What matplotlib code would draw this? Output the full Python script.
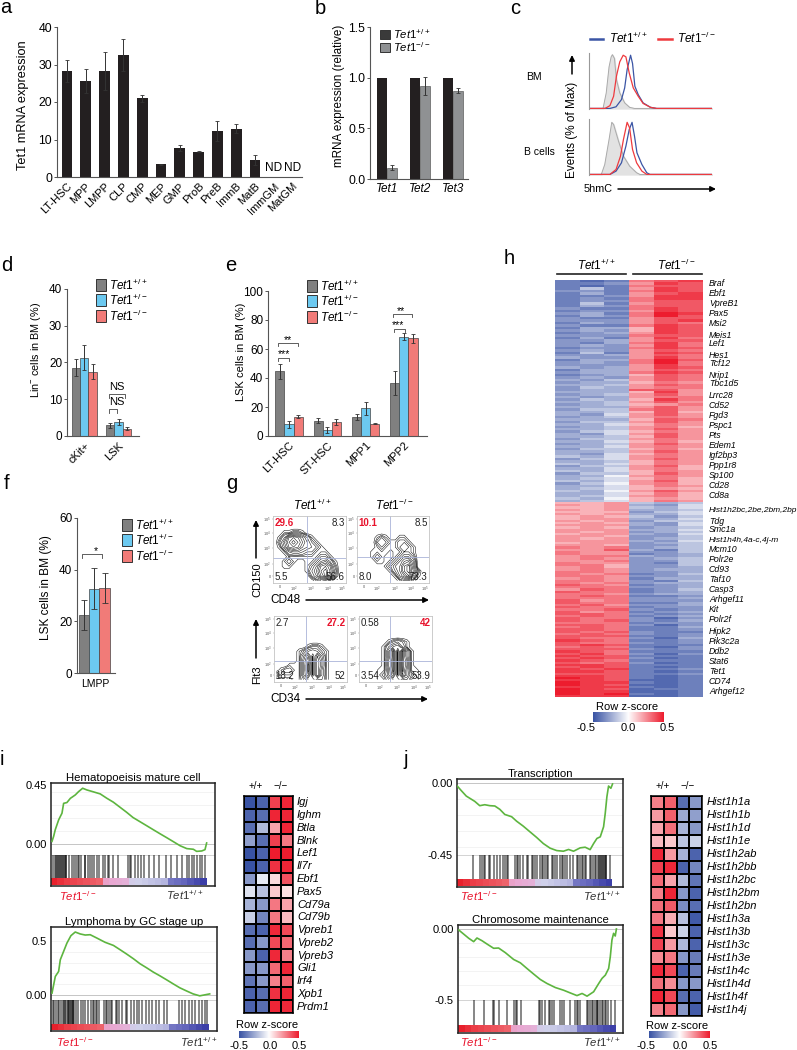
# Tet1 figure, panels a-j
import numpy as np
import matplotlib
matplotlib.use('Agg')
import matplotlib.pyplot as plt
from matplotlib.colors import LinearSegmentedColormap

plt.rcParams['font.family'] = ['Liberation Sans', 'DejaVu Sans']
plt.rcParams['mathtext.fontset'] = 'custom'
plt.rcParams['mathtext.rm'] = 'Liberation Sans'
plt.rcParams['mathtext.it'] = 'Liberation Sans:italic'
plt.rcParams['mathtext.bf'] = 'Liberation Sans:bold'

W, H = 797, 1050
WT = r'$\mathit{Tet1}^{+/+}$'
HET = r'$\mathit{Tet1}^{+/-}$'
KO = r'$\mathit{Tet1}^{-/-}$'

# panel a
a_cells = ['LT-HSC', 'MPP', 'LMPP', 'CLP', 'CMP', 'MEP', 'GMP', 'ProB', 'PreB', 'ImmB', 'MatB', 'ImmGM', 'MatGM']
a_vals = [28.3, 25.5, 28.3, 32.6, 21.0, 3.4, 7.8, 6.8, 12.2, 12.9, 4.5]
a_errs = [3.0, 3.2, 5.0, 4.2, 1.0, 0.2, 0.8, 0.2, 2.7, 1.2, 1.4]

# panel b
b_genes = ['Tet1', 'Tet2', 'Tet3']
b_wt = [1.0, 1.0, 1.0]
b_ko = [0.11, 0.92, 0.87]
b_ko_err = [0.025, 0.09, 0.025]

# panel c
c_bm_gray_x = [0, 11.4, 14, 16.3, 18, 19, 20.7, 22.3, 25, 29, 33, 37, 100]
c_bm_gray_y = [0, 0, 28, 75, 93, 97, 90, 52, 28, 10, 2, 0, 0]
c_bm_blue_x = [0, 17, 22, 26.4, 29, 31, 33.8, 35.4, 37.3, 40, 44, 50, 55, 100]
c_bm_blue_y = [0, 0, 3, 16, 37, 70, 96, 81, 40, 25, 10, 2, 0, 0]
c_bm_red_x = [0, 13, 17, 20, 22.3, 25, 27.8, 30, 32.7, 36, 40, 44, 50, 55, 100]
c_bm_red_y = [0, 0, 5, 22, 58, 84, 96, 93, 64, 37, 22, 9, 2, 0, 0]
c_b_gray_x = [0, 10, 12.8, 16.3, 18.5, 20, 24, 28, 33, 38.7, 41.4, 100]
c_b_gray_y = [0, 0, 18, 63, 94, 90, 60, 33, 15, 3, 0, 0]
c_b_blue_x = [0, 17, 22, 26.4, 30, 32.7, 35, 37, 39, 43, 47, 49.6, 100]
c_b_blue_y = [0, 0, 6, 21, 51, 81, 94, 69, 39, 18, 3, 0, 0]
c_b_red_x = [0, 17, 22, 25.6, 28, 31, 33, 35.4, 38.7, 43, 47, 100]
c_b_red_y = [0, 0, 9, 33, 63, 94, 84, 45, 21, 6, 0, 0]

# panel d
d_groups = ['cKit+', 'LSK']
d_wt = [18.6, 2.9]
d_het = [21.3, 3.9]
d_ko = [17.5, 2.0]
d_wt_err = [2.4, 0.7]
d_het_err = [3.4, 0.8]
d_ko_err = [2.1, 0.4]

# panel e
e_groups = ['LT-HSC', 'ST-HSC', 'MPP1', 'MPP2']
e_wt = [44.5, 10.5, 13.0, 36.5]
e_het = [8.0, 4.0, 19.0, 68.5]
e_ko = [13.3, 9.8, 8.5, 67.3]
e_wt_err = [5.5, 1.7, 2.2, 8.0]
e_het_err = [2.3, 2.0, 4.5, 2.5]
e_ko_err = [1.2, 2.2, 0.5, 3.2]

# panel f
f_vals = [22.3, 32.6, 33.0]
f_errs = [5.8, 8.0, 5.8]

# panel g, density read by eye on a coarse grid, top row first
g1_density = [
    '0000000000000000', '0000000000000000', '0000000000000000', '0011221000000000',
    '0137875310000000', '0258986421000000', '0147875432100000', '0013443221110000',
    '0001111111221000', '0012100112453100', '0011000124786200', '0000000135897300',
    '0000000024796200', '0000000001231000']
g2_density = [
    '0000000000000000', '0000000000000000', '0000000000000000', '0000000000000000',
    '0000121001100000', '0000232112210000', '0000121112321000', '0001111011221000',
    '0001210012442000', '0000110124674000', '0000001245895000', '0000000135896200',
    '0000000014684100', '0000000001221000']
g3_density = [
    '0000000000000000', '0000000000000000', '0000000000000000', '0000000000000000',
    '0000000000000000', '0000000000000000', '0000000122100000', '0000012454210000',
    '0000014737410000', '0000015838510000', '0001115938510000', '0122115938410000',
    '2111115838410000', '0000113563310000']
g4_density = [
    '0000000000000000', '0000000000000000', '0000000000000000', '0000000000000000',
    '0000000000000000', '0000001232100000', '0000013563100000', '0000015939510000',
    '0000015939510000', '0000016939610000', '0000016939610000', '0000115939511000',
    '0000125838521000', '0000113563311000']
g_levels = [0.5, 1, 1.5, 2, 3, 4, 5, 6, 7, 8, 8.6]
g1_pcts = ['29.6', '8.3', '5.5', '56.6']
g2_pcts = ['10.1', '8.5', '8.0', '73.3']
g3_pcts = ['2.7', '27.2', '18.2', '52']
g4_pcts = ['0.58', '42', '3.54', '53.9']

# panel h, one hex digit per cell, 0 = -0.5 ... f = +0.5
h_up_rows = '''212cde 223bed 212cdd 252bed 332ced 242bde 223bee 232cee 233cdd 252bdd
243cdd 322ced 233bed 342cfe 243cfd 322bdd 333bde 243bdc 322ced 244aed
343aed 234bed 333cdd 242bec 334bdd 324cec 343bec 233ced 343bdc 252bed
334bdc 433bec 244cfd 343cfc 333bec 434bed 244bdc 344ced 234adc 343bdc
435bdc 344acb 445bdc 354bcc 344ddb 444aeb 345bdb 434bcc 354aec 445bdb
345abc 444bdb 355cdb 445ada 436bdb 345bcb 444adc 355bdb 446acb 345bca
445bdb 356acb 436bdb 445adb 355bcb 446aca 345bdb 446bcb 355aca 445bdb
436acb 546bcb 356bdb 445acb 546acb 355bda 446bca 546acb 355adb 447bcb
456aca 546bda 357bca 446acb 456aba 547bdb 446aca 456bca 547aba 456acb'''.split()
h_down_rows = '''aab545 bab436 aab546 bab445 aaa356 bab446 aba535 abb446 bab355 aba436
bbb436 aba345 bbb446 bab345 abb436 bba335 bab345 bbb436 abb345 bba335
cbc345 bbd425 cbb335 cbb234 bcc434 bcb345 bbc335 cbb325 cca335 bca334
bcb344 ccb334 cbc235 ccb334 bcb244 ccb325 cbc344 dcb234 ccc334 bdc235
dcc234 ccb344 cdc223 ccc334 dbc333 dcc224 cdb334 dcc233 ccd323 dbc234
ddc323 cdc234 dcc313 dcd324 ccc233 ddc313 cdc224 ddc223 dcd322 cdc323
ddd223 dcc314 edc223 dcc323 ded222 cdc213 ddd323 edc222 dec313 edd222
ded312 edc222 dcd312 eed222 ded212 ede223 eed212 ddd223 eed212 fed212
eed112 fee212 fed112 eee212 fed122 fee112 fef212 eee112'''.split()
h_genes_up = ['Braf', 'Ebf1', 'VpreB1', 'Pax5', 'Msi2', 'Meis1', 'Lef1', 'Hes1', 'Tcf12', 'Nrip1', 'Tbc1d5',
              'Lrrc28', 'Cd52', 'Fgd3', 'Pspc1', 'Pts', 'Edem1', 'Igf2bp3', 'Ppp1r8', 'Sp100', 'Cd28', 'Cd8a']
h_genes_down = ['Hist1h2bc,2be,2bm,2bp', 'Tdg', 'Smc1a', 'Hist1h4h,4a-c,4j-m', 'Mcm10', 'Polr2e', 'Cd93',
                'Taf10', 'Casp3', 'Arhgef11', 'Kit', 'Polr2f', 'Hipk2', 'Pik3c2a', 'Ddb2', 'Stat6', 'Tet1',
                'CD74', 'Arhgef12']

# panel i and j, running enrichment score
i1_x = [0.6, 1.6, 2.6, 4.7, 6.7, 7.7, 9.7, 11.8, 14.8, 16.8, 19.3, 21.9, 26, 30, 34, 38, 42, 46, 50, 54.4,
        58.4, 62.5, 66.5, 70.6, 74.6, 78.7, 82.8, 86.8, 88.8, 91.9, 93.9, 94.9]
i1_es = [0.02, 0.058, 0.109, 0.185, 0.235, 0.31, 0.316, 0.348, 0.374, 0.399, 0.425, 0.412, 0.397, 0.382,
         0.349, 0.319, 0.281, 0.243, 0.202, 0.169, 0.139, 0.108, 0.078, 0.048, 0.018, -0.013, -0.035, -0.04,
         -0.056, -0.053, -0.043, 0.008]
i1_hits = [1.5, 2.5, 3.2, 3.8, 4.4, 5, 5.6, 6.3, 7, 7.5, 8, 8.5, 9, 9.4, 11, 13, 14, 15, 16.5, 17, 18, 20.5, 21,
           22.5, 24, 25, 26.5, 28, 29, 32, 33, 34.5, 35.5, 38, 41, 47, 48, 49, 51, 53, 55, 57, 60, 63, 66, 70,
           73, 77, 80, 83, 84, 86, 87, 89, 91, 92, 94]
i2_x = [0.6, 1.6, 2.6, 4.6, 5.6, 7.6, 9.6, 12, 14.6, 17.6, 20.6, 23.6, 27.6, 32.6, 37.6, 41.6, 45.6, 49.6, 53.6,
        57.6, 61.6, 65.6, 69.6, 73.6, 77.6, 81.6, 85.6, 89.6, 92.6, 95.6]
i2_es = [0.016, 0.094, 0.172, 0.219, 0.328, 0.406, 0.484, 0.553, 0.587, 0.569, 0.559, 0.562, 0.531, 0.491, 0.462,
         0.422, 0.381, 0.338, 0.291, 0.253, 0.213, 0.178, 0.141, 0.103, 0.066, 0.037, 0.009, -0.009, 0, 0.009]
i2_hits = [1, 2, 3, 4, 5, 6, 7, 8, 8.5, 9, 10, 10.5, 11, 11.5, 12, 12.5, 13, 13.5, 14, 15, 16, 18, 19, 20.5, 22, 24,
           25, 26, 27, 28, 29, 32, 33, 34, 35, 36, 37, 39, 40, 41, 43, 45, 46, 48, 50, 52, 53, 55, 57, 59, 61, 63,
           65, 68, 70, 77, 79, 81, 83, 85, 87, 89, 91, 93, 94]
j1_x = [0, 2.6, 5.6, 8.7, 10.7, 13.7, 16.7, 19.8, 22.8, 25.8, 28.8, 32.9, 35.9, 39.9, 44, 48, 52, 56.1, 60.1, 64.1,
        67.2, 70.2, 74.2, 77.2, 80.2, 82.3, 84.3, 86.3, 88.3, 89.3, 90.3, 91.3, 92.7, 93.7]
j1_es = [-0.015, -0.046, -0.08, -0.1, -0.113, -0.14, -0.134, -0.14, -0.142, -0.163, -0.195, -0.209, -0.237, -0.268,
         -0.304, -0.339, -0.377, -0.406, -0.421, -0.425, -0.414, -0.425, -0.404, -0.4, -0.415, -0.377, -0.345,
         -0.335, -0.272, -0.188, -0.084, -0.017, -0.031, -0.004]
j1_hits = [9.5, 14, 15, 16, 17, 19, 20, 22, 24, 26, 28, 29, 30, 31, 35, 36, 37, 38, 40, 42, 43, 45, 46, 47, 48, 50,
           51, 52, 53, 54, 55, 57, 58, 59, 60, 62, 63, 64, 65, 66, 68, 70, 72, 73, 74, 75, 76, 77, 78, 80, 81, 82,
           83, 84, 85, 85.5, 86, 87, 87.5, 88, 88.5, 89, 89.5, 90, 92]
j2_x = [0.4, 3.4, 6.5, 9.5, 11.5, 14.5, 17.6, 21.6, 24.6, 28.7, 33.7, 37.8, 41.8, 45.9, 49.9, 53.9, 59, 64, 68, 72.1,
        75.2, 78.2, 82.2, 85.3, 87.3, 89.3, 91.3, 92.3, 93.3, 94.3, 95.3, 96]
j2_es = [-0.007, -0.036, -0.066, -0.09, -0.064, -0.083, -0.107, -0.137, -0.135, -0.168, -0.216, -0.24, -0.28, -0.32,
         -0.358, -0.386, -0.415, -0.434, -0.453, -0.472, -0.457, -0.476, -0.445, -0.386, -0.35, -0.327, -0.28,
         -0.197, -0.078, -0.031, -0.05, 0]
j2_hits = [10, 15.5, 21.5, 22, 25, 30, 34, 35, 36, 38, 49, 50, 51, 53, 55, 56, 57, 58, 62, 63, 64, 68, 71, 72, 73,
           74, 78, 79, 80, 81, 82, 83, 84, 84.5, 85, 86, 87, 88, 89, 90, 91, 93, 95]

# ranked list colour strip, 0 = blue ... 1 = red
rank_strip = [1, 0.96, 0.92, 0.9, 0.88, 0.86, 0.84, 0.82, 0.62, 0.6, 0.58, 0.56,
              0.42, 0.4, 0.38, 0.36, 0.34, 0.32, 0.14, 0.12, 0.1, 0.06, 0.03, 0]

# panel i and j heatmaps
i_genes = ['Igj', 'Ighm', 'Btla', 'Blnk', 'Lef1', 'Il7r', 'Ebf1', 'Pax5', 'Cd79a', 'Cd79b', 'Vpreb1', 'Vpreb2',
           'Vpreb3', 'Gli1', 'Irf4', 'Xpb1', 'Prdm1']
i_wt1 = [-.5, -.45, -.42, -.28, -.5, -.5, -.3, -.08, -.22, -.14, -.42, -.42, -.3, -.3, -.4, -.45, -.45]
i_wt2 = [-.45, -.42, -.2, -.42, -.45, -.45, -.06, -.18, -.3, -.35, -.45, -.3, -.45, -.3, -.3, -.42, -.42]
i_ko1 = [.42, .48, .2, .42, .5, .45, .08, .12, .3, .3, .47, .4, .47, .33, .28, .45, .48]
i_ko2 = [.48, .48, .48, .3, .5, .48, .38, .07, .2, .15, .4, .33, .28, .48, .35, .48, .47]
j_genes = ['Hist1h1a', 'Hist1h1b', 'Hist1h1d', 'Hist1h1e', 'Hist1h2ab', 'Hist1h2bb', 'Hist1h2bc', 'Hist1h2bm',
           'Hist1h2bn', 'Hist1h3a', 'Hist1h3b', 'Hist1h3c', 'Hist1h3e', 'Hist1h4c', 'Hist1h4d', 'Hist1h4f', 'Hist1h4j']
j_wt1 = [.28, .22, .2, .15, .48, .42, .33, .28, .32, .3, .45, .42, .26, .47, .32, .48, .28]
j_wt2 = [.35, .35, .32, .12, .22, .47, .2, .48, .36, .18, .12, .22, .3, .4, .25, .4, .33]
j_ko1 = [-.42, -.25, -.22, -.17, -.22, -.45, -.2, -.3, -.33, -.18, -.13, -.2, -.3, -.45, -.3, -.42, -.3]
j_ko2 = [-.3, -.28, -.3, -.13, -.45, -.35, -.4, -.45, -.42, -.48, -.45, -.45, -.38, -.38, -.3, -.45, -.47]

z_cmap = LinearSegmentedColormap.from_list('z', ['#3953a4', '#ffffff', '#ed1c2e'])
rank_cmap = LinearSegmentedColormap.from_list('rank', ['#3c3fa8', '#8e8fd0', '#cfd0ea', '#e9a8d2', '#ef6a72', '#e8202c'])
GRAY, BLUE, RED = '#808080', '#6cc9f0', '#f17b78'
AXC = '#555555'

fig = plt.figure(figsize=(W / 100, H / 100), dpi=100, facecolor='white')


def box(l, t, r, b):
    return fig.add_axes([l / W, 1 - b / H, (r - l) / W, (b - t) / H])


def clean(ax, size=8.5):
    ax.spines['top'].set_visible(False)
    ax.spines['right'].set_visible(False)
    ax.spines['left'].set_color(AXC)
    ax.spines['bottom'].set_color(AXC)
    ax.tick_params(axis='y', length=2, width=0.7, color=AXC, labelsize=size, pad=1.5)
    ax.tick_params(axis='x', length=0, labelsize=size, pad=3)


def grouped(ax, series, errs, colors, width, edge='#444444'):
    n = len(series)
    for j, (vals, err, col) in enumerate(zip(series, errs, colors)):
        x = np.arange(len(vals)) + (j - (n - 1) / 2) * width
        ax.bar(x, vals, width, color=col, edgecolor=edge, linewidth=0.5,
               yerr=err, ecolor='#333333', error_kw=dict(lw=0.7, capsize=1.5, capthick=0.6))


def bracket(ax, x0, x1, y, drop):
    ax.plot([x0, x0, x1, x1], [y - drop, y, y, y - drop], color='#444444', lw=0.6, clip_on=False)


# a
ax = box(57, 27, 302, 177)
ax.bar(range(len(a_vals)), a_vals, 0.57, color='#231f20', yerr=a_errs, ecolor='#333333',
       error_kw=dict(lw=0.7, capsize=1.5, capthick=0.6))
ax.set_xlim((57 - 67) / 18.8, (302 - 67) / 18.8)
ax.set_ylim(0, 40)
ax.set_yticks([0, 10, 20, 30, 40])
clean(ax, 8.8)
ax.set_xticks(range(len(a_cells)))
ax.set_xticklabels(a_cells, rotation=45, ha='right', rotation_mode='anchor', fontsize=8)
ax.text(11, 0.8, 'ND', ha='center', va='bottom', fontsize=8.5)
ax.text(12, 0.8, 'ND', ha='center', va='bottom', fontsize=8.5)

# b
ax = box(370, 27, 468, 179)
b_pos = np.arange(len(b_genes))
ax.bar(b_pos - 0.152, b_wt, 0.305, color='#231f20')
ax.bar(b_pos + 0.152, b_ko, 0.305, color='#8f9193', edgecolor='#444444', linewidth=0.4, yerr=b_ko_err,
       ecolor='#333333', error_kw=dict(lw=0.7, capsize=1.5, capthick=0.6))
ax.set_xlim((370 - 387) / 32.8, (468 - 387) / 32.8)
ax.set_ylim(0, 1.5)
ax.set_yticks([0, 0.5, 1.0, 1.5])
clean(ax, 8.8)
ax.set_xticks(b_pos)
ax.set_xticklabels(b_genes, style='italic', fontsize=8.5)

# c
for top, bottom, series in [
        (53, 109, [(c_bm_gray_x, c_bm_gray_y), (c_bm_blue_x, c_bm_blue_y), (c_bm_red_x, c_bm_red_y)]),
        (119, 175, [(c_b_gray_x, c_b_gray_y), (c_b_blue_x, c_b_blue_y), (c_b_red_x, c_b_red_y)])]:
    ax = box(589, top, 712, bottom)
    ax.fill_between(series[0][0], series[0][1], color='#e2e2e2')
    ax.plot(series[0][0], series[0][1], color='#aaaaaa', lw=0.7)
    ax.plot(series[1][0], series[1][1], color='#3b55a5', lw=0.9)
    ax.plot(series[2][0], series[2][1], color='#ee3a3e', lw=0.9)
    ax.set_xlim(0, 100)
    ax.set_ylim(-1, 100)
    ax.spines['top'].set_visible(False)
    ax.spines['right'].set_visible(False)
    ax.spines['left'].set_color('#999999')
    ax.spines['bottom'].set_visible(False)
    ax.set_xticks([])
    ax.set_yticks([])

# d
ax = box(67, 289, 139, 436)
grouped(ax, [d_wt, d_het, d_ko], [d_wt_err, d_het_err, d_ko_err], [GRAY, BLUE, RED], 8.3 / 34.3)
ax.set_xlim((67 - 84.3) / 34.3, (139 - 84.3) / 34.3)
ax.set_ylim(0, 40)
ax.set_yticks([0, 10, 20, 30, 40])
clean(ax, 8.5)
ax.set_xticks(range(len(d_groups)))
ax.set_xticklabels(d_groups, rotation=45, ha='right', rotation_mode='anchor', fontsize=8)
bracket(ax, 0.72, 0.96, 7.3, 1.0)
bracket(ax, 0.72, 1.2, 11.4, 1.0)

# e
ax = box(268, 291, 427, 436)
grouped(ax, [e_wt, e_het, e_ko], [e_wt_err, e_het_err, e_ko_err], [GRAY, BLUE, RED], 9.1 / 38.3)
ax.set_xlim((268 - 289) / 38.3, (427 - 289) / 38.3)
ax.set_ylim(0, 100)
ax.set_yticks([0, 20, 40, 60, 80, 100])
clean(ax, 8.5)
ax.set_xticks(range(len(e_groups)))
ax.set_xticklabels(e_groups, rotation=45, ha='right', rotation_mode='anchor', fontsize=8)
bracket(ax, -0.28, 0, 54, 2)
bracket(ax, -0.28, 0.24, 64, 2)
bracket(ax, 2.74, 3.02, 74, 2)
bracket(ax, 2.72, 3.22, 84, 2)

# f
ax = box(77, 518, 115, 673)
ax.bar(range(3), f_vals, 1.0, color=[GRAY, BLUE, RED], edgecolor='#444444', linewidth=0.5, yerr=f_errs,
       ecolor='#333333', error_kw=dict(lw=0.7, capsize=2, capthick=0.6))
ax.set_xlim((77 - 84) / 10.3, (115 - 84) / 10.3)
ax.set_ylim(0, 60)
ax.set_yticks([0, 20, 40, 60])
clean(ax, 8.5)
ax.set_xticks([])
bracket(ax, -0.2, 1.75, 46, 1.5)

# g
g_panels = [(273, 516, 346, 583, g1_density, 307, 558, g1_pcts, 0),
            (357, 516, 429, 583, g2_density, 390, 557, g2_pcts, 0),
            (274, 616, 347, 682, g3_density, 306, 661, g3_pcts, 1),
            (359, 616, 432, 682, g4_density, 390, 661, g4_pcts, 1)]
flow_ticks = [0.1, 0.28, 0.52, 0.75, 0.95]
flow_names = ['0', r'$10^2$', r'$10^3$', r'$10^4$', r'$10^5$']
for l, t, r, b, rows, vx, hy, pcts, red_idx in g_panels:
    ax = box(l, t, r, b)
    grid = np.array([[int(c) for c in row] for row in rows], dtype=float)
    ax.contour(grid, levels=g_levels, colors='black', linewidths=0.35, extent=(0, 1, 0, 1), origin='upper')
    ax.axvline((vx - l) / (r - l), color='#a9b3d8', lw=0.6)
    ax.axhline((b - hy) / (b - t), color='#a9b3d8', lw=0.6)
    ax.set_xlim(0, 1)
    ax.set_ylim(0, 1)
    for s in ax.spines.values():
        s.set_color('#c4c4c4')
        s.set_linewidth(0.6)
    ax.set_xticks(flow_ticks)
    ax.set_xticklabels(flow_names, fontsize=2.8, color='#555555')
    ax.set_yticks(flow_ticks)
    ax.set_yticklabels(flow_names, fontsize=2.8, color='#555555')
    ax.tick_params(length=1, width=0.3, pad=0.5, color='#888888')
    spots = [(0.02, 0.90, 'left'), (0.98, 0.90, 'right'), (0.02, 0.09, 'left'), (0.98, 0.09, 'right')]
    for i, (sx, sy, ha) in enumerate(spots):
        is_red = i == red_idx
        ax.text(sx, sy, pcts[i], ha=ha, va='center', fontsize=7, color='#e8132c' if is_red else '#222222',
                fontweight='bold' if is_red else 'normal')

# h
ax = box(555, 280, 703, 502)
ax.imshow([[int(c, 16) for c in row] for row in h_up_rows], cmap=z_cmap, vmin=0, vmax=15, aspect='auto',
          interpolation='nearest')
ax.axis('off')
ax = box(555, 502, 703, 697)
ax.imshow([[int(c, 16) for c in row] for row in h_down_rows], cmap=z_cmap, vmin=0, vmax=15, aspect='auto',
          interpolation='nearest')
ax.axis('off')


# i, j enrichment plots
def gsea(l, t, r, b, xs, es, hits, lim, hit_band, strip_band, strip_end, title, grids, ticks):
    ax = box(l, t, r, b)
    ax.plot(xs, es, color='#5db53f', lw=1.2, zorder=3)
    for g in grids:
        ax.axhline(g, color='#eeeeee', lw=0.5, zorder=1)
    ax.axhline(0, color='#bbbbbb', lw=0.6, zorder=2)
    ax.axhline(hit_band[1], color='#cccccc', lw=0.6, zorder=2)
    ax.vlines(hits, hit_band[0], hit_band[1], color='black', alpha=0.6, lw=1.1, zorder=2)
    edges = np.linspace(0, strip_end, len(rank_strip) + 1)
    ax.pcolormesh(edges, strip_band, np.array(rank_strip)[None, :], cmap=rank_cmap, vmin=0, vmax=1, zorder=2)
    ax.set_xlim(0, 100)
    ax.set_ylim(*lim)
    ax.set_xticks([])
    ax.set_yticks(ticks)
    ax.set_yticklabels(['%.2f' % v if v in (0, 0.45, -0.45) else '%.1f' % v for v in ticks], fontsize=8)
    ax.tick_params(axis='y', length=0, pad=3)
    for s in ax.spines.values():
        s.set_linewidth(1.1)
        s.set_color('#222222')
    ax.set_title(title, fontsize=8.2, pad=1.5)


gsea(51, 783, 215, 886, i1_x, i1_es, i1_hits, (-0.32, 0.465), (-0.26, -0.085), (-0.315, -0.26), 95,
     'Hematopoeisis mature cell', [0.1, 0.2, 0.3, 0.4], [0, 0.45])
gsea(51, 927, 217, 1031, i2_x, i2_es, i2_hits, (-0.3375, 0.634), (-0.27, -0.05), (-0.33, -0.27), 95,
     'Lymphoma by GC stage up', [0.1, 0.2, 0.3, 0.4, 0.5], [0, 0.5])
gsea(457, 779, 623, 887, j1_x, j1_es, j1_hits, (-0.649, 0.027), (-0.6, -0.45), (-0.645, -0.6), 93.5,
     'Transcription', [-0.1, -0.2, -0.3, -0.4], [0, -0.45])
gsea(458, 925, 623, 1033, j2_x, j2_es, j2_hits, (-0.737, 0.028), (-0.68, -0.5), (-0.73, -0.68), 96,
     'Chromosome maintenance', [-0.1, -0.2, -0.3, -0.4], [0, -0.5])


# small heatmaps
def cells(l, t, r, b, columns):
    ax = box(l, t, r, b)
    ax.pcolormesh(np.array(columns).T[::-1], cmap=z_cmap, vmin=-0.5, vmax=0.5, edgecolors='black', linewidth=1.1)
    ax.set_xticks([])
    ax.set_yticks([])
    for s in ax.spines.values():
        s.set_linewidth(1.1)


cells(244, 796, 293, 1013, [i_wt1, i_wt2, i_ko1, i_ko2])
cells(651, 796, 702, 1016, [j_wt1, j_wt2, j_ko1, j_ko2])

# colour scales
for l, t, r, b in [(593, 712, 663, 722), (239, 1031, 299, 1038), (649, 1031, 710, 1038)]:
    ax = box(l, t, r, b)
    ax.imshow(np.linspace(-0.5, 0.5, 128)[None, :], cmap=z_cmap, aspect='auto')
    ax.axis('off')

# text, arrows and legends placed in pixels of the whole page
ov = fig.add_axes([0, 0, 1, 1], zorder=10)
ov.set_xlim(0, W)
ov.set_ylim(H, 0)
ov.axis('off')


def txt(x, y, s, size=8, ha='left', va='center', **kw):
    ov.text(x, y, s, fontsize=size, ha=ha, va=va, **kw)


def arrow(x0, y0, x1, y1):
    ov.annotate('', xy=(x1, y1), xytext=(x0, y0),
                arrowprops=dict(arrowstyle='-|>', color='black', lw=1.1, shrinkA=0, shrinkB=0, mutation_scale=8))


def legend(x, ys, labels, colors, size=8.5, side=12):
    for y, lab, col in zip(ys, labels, colors):
        ov.add_patch(plt.Rectangle((x, y - side / 2), 10, side, facecolor=col, edgecolor='#333333', lw=0.7))
        txt(x + 13, y, lab, size)


for x, y, s in [(0, 13, 'a'), (315, 14, 'b'), (510, 14, 'c'), (1, 271, 'd'), (225, 271, 'e'), (4, 489, 'f'),
                (226, 489, 'g'), (504, 264, 'h'), (0, 765, 'i'), (403, 765, 'j')]:
    txt(x, y, s, 14.5, va='baseline')

txt(23, 105, 'Tet1 mRNA expression', 9.2, ha='center', rotation=90)
txt(339, 96, 'mRNA expression (relative)', 8.4, ha='center', rotation=90)
txt(36, 350, r'Lin$^{-}$ cells in BM (%)', 7.8, ha='center', rotation=90)
txt(241, 352, 'LSK cells in BM (%)', 8, ha='center', rotation=90)
txt(46, 588, 'LSK cells in BM (%)', 8.6, ha='center', rotation=90)

legend(380, [34, 47], [WT, KO], ['#3a3a3a', '#8f9193'], 8.2, side=9)
ov.plot([590, 603], [39, 39], color='#3b55a5', lw=1.8)
ov.plot([658, 672], [39, 39], color='#ee3a3e', lw=1.8)
txt(609, 38, WT, 8.6)
txt(677, 38, KO, 8.6)
txt(526, 77, 'BM', 7.5)
txt(524, 152, 'B cells', 7.5)
txt(572, 130, 'Events (% of Max)', 8.5, ha='center', rotation=90)
arrow(572, 74, 572, 55)
txt(584, 189, '5hmC', 7.8)
arrow(618, 189, 716, 189)

legend(96, [285, 300, 316], [WT, HET, KO], [GRAY, BLUE, RED])
txt(117, 402, 'NS', 8, ha='center')
txt(117, 387, 'NS', 8, ha='center')
legend(307, [286, 301, 317], [WT, HET, KO], [GRAY, BLUE, RED])
txt(284, 354, '***', 7.5, ha='center')
txt(288, 340, '**', 7.5, ha='center')
txt(398, 325, '***', 7.5, ha='center')
txt(401, 311, '**', 7.5, ha='center')
legend(122, [525, 540, 556], [WT, HET, KO], [GRAY, BLUE, RED])
txt(96, 551, '*', 7.5, ha='center')
txt(95, 684, 'LMPP', 7.5, ha='center')

txt(312, 505, WT, 8.5, ha='center')
txt(394, 505, KO, 8.5, ha='center')
txt(257, 580, 'CD150', 8, ha='center', rotation=90)
arrow(256, 558, 256, 520)
txt(285, 600, 'CD48', 8.5, ha='center')
arrow(306, 600, 429, 600)
txt(257, 675, 'Flt3', 8, ha='center', rotation=90)
arrow(256, 658, 256, 619)
txt(285, 699, 'CD34', 8.5, ha='center')
arrow(306, 699, 428, 699)

ov.plot([557, 626], [274, 274], color='#222222', lw=1.2)
ov.plot([633, 702], [274, 274], color='#222222', lw=1.2)
txt(596, 265, WT, 8.5, ha='center')
txt(676, 265, KO, 8.5, ha='center')
h_up_y = [284, 294, 304, 314, 324, 335, 344, 355, 364, 375, 384, 395, 405, 415, 425, 435, 446, 456, 466, 476, 486, 496]
h_down_y = [510, 521, 530, 540, 550, 560, 570, 580, 590, 600, 610, 620, 631, 642, 651, 662, 671, 682, 691]
for y, g in zip(h_up_y + h_down_y, h_genes_up + h_genes_down):
    txt(709, y, g, 6 if 'Hist' in g else 6.3, style='italic')
txt(627, 707, 'Row z-score', 8, ha='center')
for x, s in [(586, '-0.5'), (628, '0.0'), (667, '0.5')]:
    txt(x, 728, s, 8, ha='center')

txt(78, 896, KO, 8.2, ha='center', color='#e8132c')
txt(185, 895, WT, 8.2, ha='center', color='#333333')
txt(75, 1042, KO, 8.2, ha='center', color='#e8132c')
txt(199, 1042, WT, 8.2, ha='center', color='#333333')
txt(479, 896, KO, 8.2, ha='center', color='#e8132c')
txt(602, 896, WT, 8.2, ha='center', color='#333333')
txt(479, 1042, KO, 8.2, ha='center', color='#e8132c')
txt(602, 1042, WT, 8.2, ha='center', color='#333333')

txt(256, 786, '+/+', 7, ha='center')
txt(281, 786, '\u2212/\u2212', 7, ha='center')
txt(663, 786, '+/+', 7, ha='center')
txt(688, 786, '\u2212/\u2212', 7, ha='center')
for k, g in enumerate(i_genes):
    txt(297, 796 + 217 / 17 * (k + 0.5), g, 8, style='italic')
for k, g in enumerate(j_genes):
    txt(707, 796 + 220 / 17 * (k + 0.5), g, 8, style='italic')

txt(267, 1025, 'Row z-score', 8, ha='center')
txt(677, 1026, 'Row z-score', 8, ha='center')
for x, s in [(239, '-0.5'), (270, '0.0'), (299, '0.5'), (646, '-0.5'), (680, '0.0'), (710, '0.5')]:
    txt(x, 1046, s, 8, ha='center')

fig.savefig('out.png', dpi=100)
